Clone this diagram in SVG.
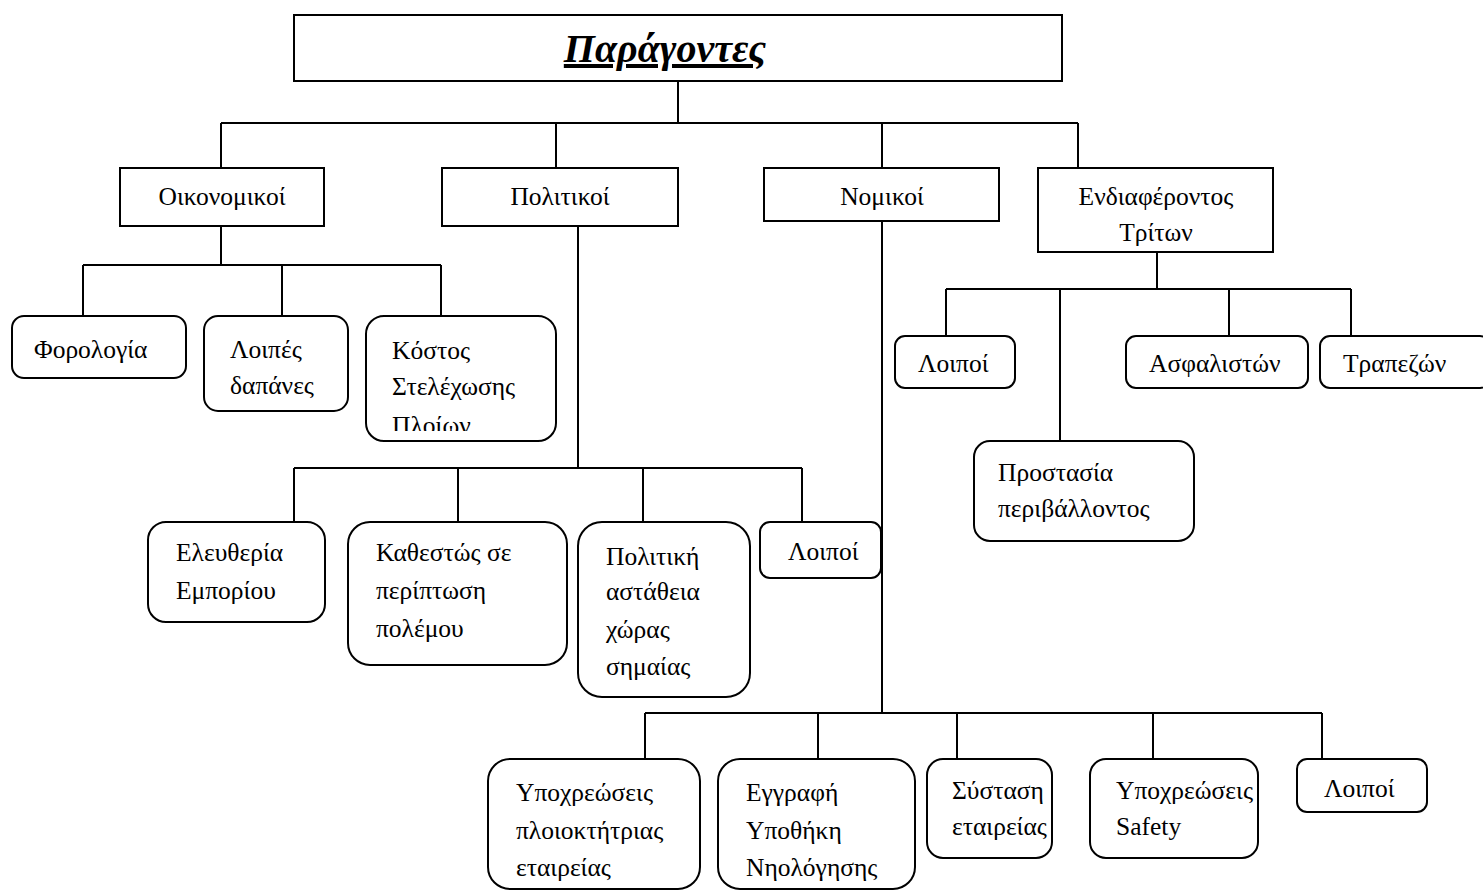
<svg xmlns="http://www.w3.org/2000/svg" width="1483" height="891" viewBox="0 0 1483 891">
<style>
  .sq { fill: #fff; stroke: #000; stroke-width: 2; }
  .rd { fill: #fff; stroke: #000; stroke-width: 2; }
  .t { font-family: "Liberation Serif", "Times New Roman", serif; font-size: 25.5px; fill: #000; }
  .c { text-anchor: middle; }
  .title { font-family: "Liberation Serif", "Times New Roman", serif; font-size: 40px; font-weight: bold; font-style: italic; text-decoration: underline; text-anchor: middle; }
  #connectors line { stroke: #000; stroke-width: 2; fill: none; }
</style>
<defs>
  <clipPath id="clipKostos"><rect x="366" y="316" width="190" height="115"/></clipPath>
</defs>
<rect x="0" y="0" width="1483" height="891" fill="#fff"/>

<g id="connectors">
  <line x1="678" y1="81" x2="678" y2="123"/>
  <line x1="221" y1="123" x2="1078" y2="123"/>
  <line x1="221" y1="123" x2="221" y2="168"/>
  <line x1="556" y1="123" x2="556" y2="168"/>
  <line x1="882" y1="123" x2="882" y2="168"/>
  <line x1="1078" y1="123" x2="1078" y2="168"/>

  <line x1="221" y1="226" x2="221" y2="265"/>
  <line x1="83" y1="265" x2="441" y2="265"/>
  <line x1="83" y1="265" x2="83" y2="316"/>
  <line x1="282" y1="265" x2="282" y2="316"/>
  <line x1="441" y1="265" x2="441" y2="316"/>

  <line x1="578" y1="226" x2="578" y2="468"/>
  <line x1="294" y1="468" x2="802" y2="468"/>
  <line x1="294" y1="468" x2="294" y2="522"/>
  <line x1="458" y1="468" x2="458" y2="522"/>
  <line x1="643" y1="468" x2="643" y2="522"/>
  <line x1="802" y1="468" x2="802" y2="522"/>

  <line x1="882" y1="221" x2="882" y2="713"/>
  <line x1="645" y1="713" x2="1322" y2="713"/>
  <line x1="645" y1="713" x2="645" y2="759"/>
  <line x1="818" y1="713" x2="818" y2="759"/>
  <line x1="957" y1="713" x2="957" y2="759"/>
  <line x1="1153" y1="713" x2="1153" y2="759"/>
  <line x1="1322" y1="713" x2="1322" y2="759"/>

  <line x1="1157" y1="252" x2="1157" y2="289"/>
  <line x1="946" y1="289" x2="1351" y2="289"/>
  <line x1="946" y1="289" x2="946" y2="336"/>
  <line x1="1060" y1="289" x2="1060" y2="441"/>
  <line x1="1229" y1="289" x2="1229" y2="336"/>
  <line x1="1351" y1="289" x2="1351" y2="336"/>
</g>

<g id="n-root">
  <rect class="sq" x="294" y="15" width="768" height="66"/>
  <text class="title" x="665" y="62">Παράγοντες</text>
</g>

<g id="n-oikonomikoi">
  <rect class="sq" x="120" y="168" width="204" height="58"/>
  <text class="t c" x="222" y="205">Οικονομικοί</text>
</g>
<g id="n-politikoi">
  <rect class="sq" x="442" y="168" width="236" height="58"/>
  <text class="t c" x="560" y="205">Πολιτικοί</text>
</g>
<g id="n-nomikoi">
  <rect class="sq" x="764" y="168" width="235" height="53"/>
  <text class="t c" x="882" y="205">Νομικοί</text>
</g>
<g id="n-endiaferontos">
  <rect class="sq" x="1038" y="168" width="235" height="84"/>
  <text class="t c" x="1156" y="205">Ενδιαφέροντος</text>
  <text class="t c" x="1156" y="241">Τρίτων</text>
</g>

<g id="n-forologia">
  <rect class="rd" x="12" y="316" width="174" height="62" rx="12"/>
  <text class="t" x="34" y="358">Φορολογία</text>
</g>
<g id="n-loipes-dapanes">
  <rect class="rd" x="204" y="316" width="144" height="95" rx="14"/>
  <text class="t" x="230" y="358">Λοιπές</text>
  <text class="t" x="230" y="394">δαπάνες</text>
</g>
<g id="n-kostos">
  <rect class="rd" x="366" y="316" width="190" height="125" rx="18"/>
  <g clip-path="url(#clipKostos)">
    <text class="t" x="392" y="359">Κόστος</text>
    <text class="t" x="392" y="395">Στελέχωσης</text>
    <text class="t" x="392" y="434">Πλοίων</text>
  </g>
</g>

<g id="n-eleftheria">
  <rect class="rd" x="148" y="522" width="177" height="100" rx="18"/>
  <text class="t" x="176" y="561">Ελευθερία</text>
  <text class="t" x="176" y="599">Εμπορίου</text>
</g>
<g id="n-kathestos">
  <rect class="rd" x="348" y="522" width="219" height="143" rx="22"/>
  <text class="t" x="376" y="561">Καθεστώς σε</text>
  <text class="t" x="376" y="599">περίπτωση</text>
  <text class="t" x="376" y="637">πολέμου</text>
</g>
<g id="n-politiki-astatheia">
  <rect class="rd" x="578" y="522" width="172" height="175" rx="24"/>
  <text class="t" x="606" y="565">Πολιτική</text>
  <text class="t" x="606" y="600">αστάθεια</text>
  <text class="t" x="606" y="638">χώρας</text>
  <text class="t" x="606" y="675">σημαίας</text>
</g>
<g id="n-loipoi-pol">
  <rect class="rd" x="760" y="522" width="121" height="56" rx="10"/>
  <text class="t" x="788" y="560">Λοιποί</text>
</g>

<g id="n-ypoxreoseis-ploiokt">
  <rect class="rd" x="488" y="759" width="212" height="130" rx="22"/>
  <text class="t" x="516" y="801">Υποχρεώσεις</text>
  <text class="t" x="516" y="839">πλοιοκτήτριας</text>
  <text class="t" x="516" y="876">εταιρείας</text>
</g>
<g id="n-eggrafi">
  <rect class="rd" x="718" y="759" width="197" height="130" rx="22"/>
  <text class="t" x="746" y="801">Εγγραφή</text>
  <text class="t" x="746" y="839">Υποθήκη</text>
  <text class="t" x="746" y="876">Νηολόγησης</text>
</g>
<g id="n-systasi">
  <rect class="rd" x="927" y="759" width="125" height="99" rx="16"/>
  <text class="t" x="952" y="799">Σύσταση</text>
  <text class="t" x="952" y="835">εταιρείας</text>
</g>
<g id="n-ypoxreoseis-safety">
  <rect class="rd" x="1090" y="759" width="168" height="99" rx="16"/>
  <text class="t" x="1116" y="799">Υποχρεώσεις</text>
  <text class="t" x="1116" y="835">Safety</text>
</g>
<g id="n-loipoi-nom">
  <rect class="rd" x="1297" y="759" width="130" height="53" rx="10"/>
  <text class="t" x="1324" y="797">Λοιποί</text>
</g>

<g id="n-loipoi-tr">
  <rect class="rd" x="895" y="336" width="120" height="52" rx="10"/>
  <text class="t" x="918" y="372">Λοιποί</text>
</g>
<g id="n-asfaliston">
  <rect class="rd" x="1126" y="336" width="182" height="52" rx="10"/>
  <text class="t" x="1149" y="372">Ασφαλιστών</text>
</g>
<g id="n-trapezon">
  <rect class="rd" x="1320" y="336" width="170" height="52" rx="10"/>
  <text class="t" x="1343" y="372">Τραπεζών</text>
</g>
<g id="n-prostasia">
  <rect class="rd" x="974" y="441" width="220" height="100" rx="16"/>
  <text class="t" x="998" y="481">Προστασία</text>
  <text class="t" x="998" y="517">περιβάλλοντος</text>
</g>
</svg>
